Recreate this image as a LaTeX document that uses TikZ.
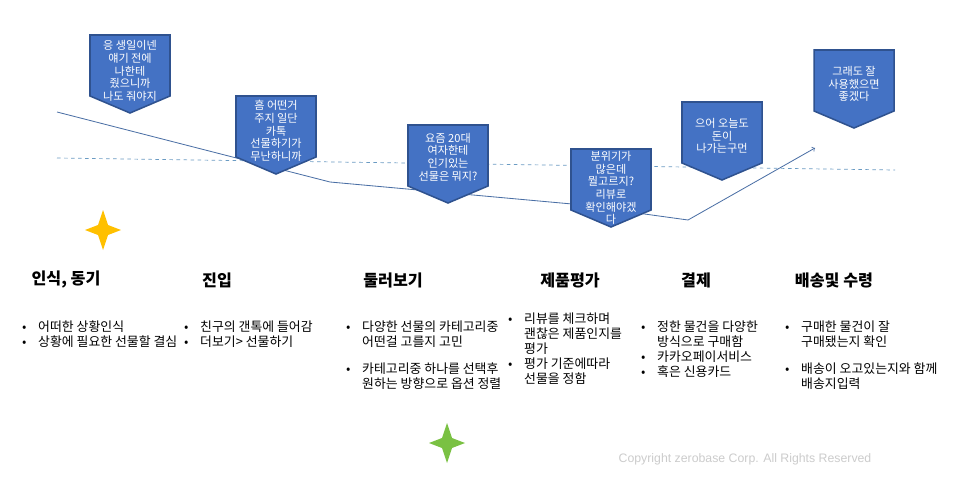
\documentclass[tikz,border=0pt]{standalone}
\usepackage{fontspec}
\setmainfont{Noto Sans CJK KR}
\newfontfamily\latinfont{Liberation Sans}

\definecolor{calloutblue}{HTML}{4472C4}
\definecolor{calloutline}{HTML}{2F528F}
\definecolor{pathline}{HTML}{4A6FA5}
\definecolor{dashline}{HTML}{6A9BC3}
\definecolor{staryellow}{HTML}{FFC000}
\definecolor{stargreen}{HTML}{7AC143}

\newcommand{\bul}{\makebox[0.48cm][l]{•}}
\newcommand{\ind}{\hspace*{0.48cm}}
\newcommand{\callout}[2]{%
  \draw[bubble] (#1-40,#2) -- (#1+40,#2) -- (#1+40,#2+61) -- (#1,#2+78) -- (#1-40,#2+61) -- cycle;}
\newcommand{\sparklestar}[2]{%
  \fill[#2] (#1) ++(0,-20) -- ++(5,15) -- ++(13,5) -- ++(-13,5) -- ++(-5,15)
    -- ++(-5,-15) -- ++(-13,-5) -- ++(13,-5) -- cycle;}

\tikzset{
  bubble/.style={fill=calloutblue, draw=calloutline, line width=1.3pt, line join=miter},
  bubbletext/.style={text=white, align=center, inner sep=0pt, font=\fontsize{9.5}{10.8}\selectfont},
  stage/.style={inner sep=0pt, font=\fontsize{13.8}{16}\selectfont\bfseries},
  points/.style={anchor=north west, inner sep=0pt, align=left, font=\fontsize{11}{12.8}\selectfont}
}

\begin{document}
\begin{tikzpicture}[x=0.03cm, y=-0.03cm]
    \useasboundingbox[fill=white] (0,0) rectangle (959,480);

    % Draw the mood line and the reference line
    \coordinate (p0) at (57,112);
    \coordinate (p1) at (330,182);
    \coordinate (p2) at (572,204);
    \coordinate (p3) at (688,220);
    \coordinate (p4) at (815,148);
    \coordinate (d0) at (57,158);
    \coordinate (d1) at (895,170);
    \draw[dashline, dashed, line width=0.6pt] (d0) -- (d1);
    \draw[pathline, line width=0.7pt] (p0) -- (p1) -- (p2) -- (p3);
    \draw[pathline, line width=0.7pt, ->] (p3) -- (p4);

    % Callouts with the thoughts
    \callout{130}{35}
    \node[bubbletext] (c1) at (130,71) {응 생일이넨\\얘기 전에\\나한테\\줬으니까\\나도 줘야지};
    \callout{276}{96}
    \node[bubbletext] (c2) at (276,131) {흠 어떤거\\주지 일단\\카톡\\선물하기가\\무난하니까};
    \callout{448}{125}
    \node[bubbletext] (c3) at (448,157) {요즘 20대\\여자한테\\인기있는\\선물은 뭐지?};
    \callout{611}{149}
    \node[bubbletext] (c4) at (611,188) {분위기가\\많은데\\뭘고르지?\\리뷰로\\확인해야겠\\다};
    \callout{722}{102}
    \node[bubbletext] (c5) at (722,136) {으어 오늘도\\돈이\\나가는구먼};
    \callout{854}{50}
    \node[bubbletext] (c6) at (854,84) {그래도 잘\\사용했으면\\좋겠다};

    % Stars
    \coordinate (s1) at (103,230);
    \coordinate (s2) at (447,443);
    \sparklestar{s1}{staryellow}
    \sparklestar{s2}{stargreen}

    % Stage titles
    \node[stage] (t1) at (66,280) {인식, 동기};
    \node[stage] (t2) at (217,280) {진입};
    \node[stage] (t3) at (393,280) {둘러보기};
    \node[stage] (t4) at (570,280) {제품평가};
    \node[stage] (t5) at (696,280) {결제};
    \node[stage] (t6) at (834,280) {배송및 수령};

    % Bullet lists under each stage
    \node[points] (l1) at (22,321) {\bul 어떠한 상황인식\\\bul 상황에 필요한 선물할 결심};
    \node[points] (l2) at (184,321) {\bul 친구의 갠톡에 들어감\\\bul 더보기> 선물하기};
    \node[points] (l3) at (346,321) {\bul 다양한 선물의 카테고리중\\\ind 어떤걸 고를지 고민\\[0.36cm]\bul 카테고리중 하나를 선택후\\\ind 원하는 방향으로 옵션 정렬};
    \node[points] (l4) at (508,313) {\bul 리뷰를 체크하며\\\ind 괜찮은 제품인지를\\\ind 평가\\\bul 평가 기준에따라\\\ind 선물을 정함};
    \node[points] (l5) at (641,321) {\bul 정한 물건을 다양한\\\ind 방식으로 구매함\\\bul 카카오페이서비스\\\bul 혹은 신용카드};
    \node[points] (l6) at (785,321) {\bul 구매한 물건이 잘\\\ind 구매됐는지 확인\\[0.36cm]\bul 배송이 오고있는지와 함께\\\ind 배송지입력};

    \node[text=gray!40, font=\latinfont\fontsize{10.5}{12}\selectfont] (copy) at (745,459) {Copyright zerobase Corp. All Rights Reserved};
\end{tikzpicture}
\end{document}
